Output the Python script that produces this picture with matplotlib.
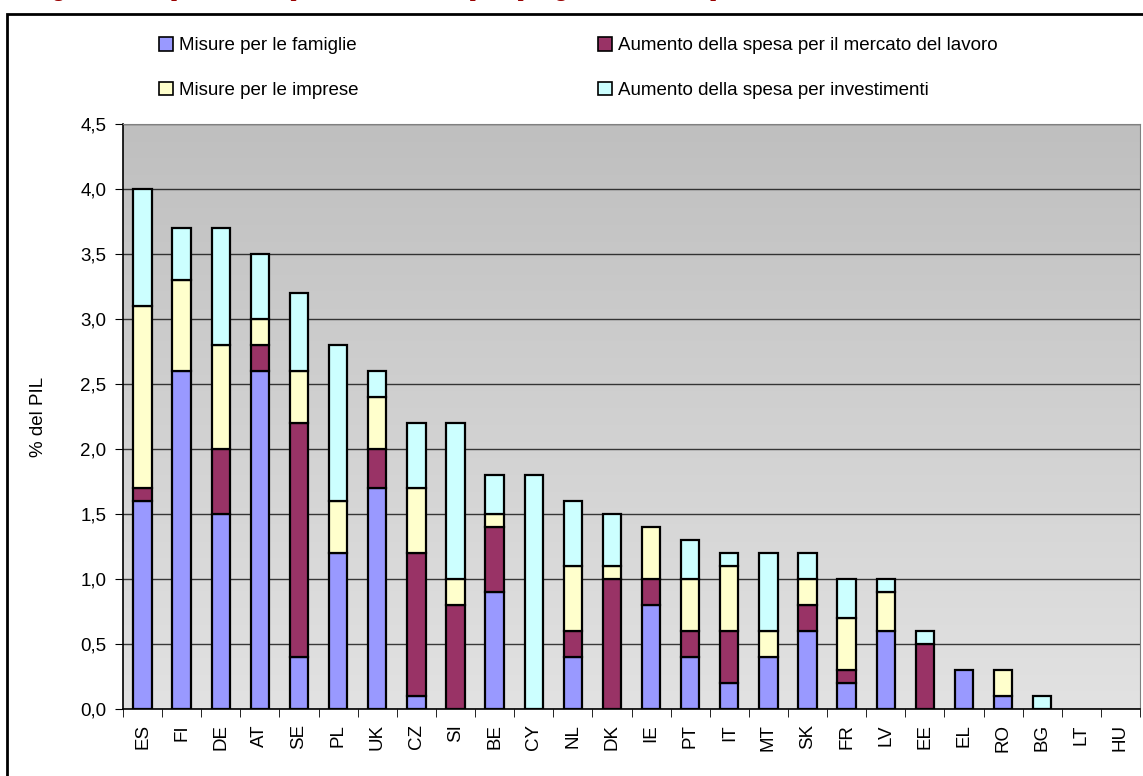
import numpy as np
import matplotlib.pyplot as plt
from matplotlib.patches import Rectangle, Patch

# dati (% del PIL)
paesi = ['ES', 'FI', 'DE', 'AT', 'SE', 'PL', 'UK', 'CZ', 'SI', 'BE', 'CY', 'NL', 'DK',
         'IE', 'PT', 'IT', 'MT', 'SK', 'FR', 'LV', 'EE', 'EL', 'RO', 'BG', 'LT', 'HU']
famiglie = [1.6, 2.6, 1.5, 2.6, 0.4, 1.2, 1.7, 0.1, 0.0, 0.9, 0.0, 0.4, 0.0,
            0.8, 0.4, 0.2, 0.4, 0.6, 0.2, 0.6, 0.0, 0.3, 0.1, 0.0, 0.0, 0.0]
lavoro = [0.1, 0.0, 0.5, 0.2, 1.8, 0.0, 0.3, 1.1, 0.8, 0.5, 0.0, 0.2, 1.0,
          0.2, 0.2, 0.4, 0.0, 0.2, 0.1, 0.0, 0.5, 0.0, 0.0, 0.0, 0.0, 0.0]
imprese = [1.4, 0.7, 0.8, 0.2, 0.4, 0.4, 0.4, 0.5, 0.2, 0.1, 0.0, 0.5, 0.1,
           0.4, 0.4, 0.5, 0.2, 0.2, 0.4, 0.3, 0.0, 0.0, 0.2, 0.0, 0.0, 0.0]
investimenti = [0.9, 0.4, 0.9, 0.5, 0.6, 1.2, 0.2, 0.5, 1.2, 0.3, 1.8, 0.5, 0.4,
                0.0, 0.3, 0.1, 0.6, 0.2, 0.3, 0.1, 0.1, 0.0, 0.0, 0.1, 0.0, 0.0]
yticks = [0.0, 0.5, 1.0, 1.5, 2.0, 2.5, 3.0, 3.5, 4.0, 4.5]

serie = [
    ('Misure per le famiglie', famiglie, '#9999ff'),
    ('Aumento della spesa per il mercato del lavoro', lavoro, '#993366'),
    ('Misure per le imprese', imprese, '#ffffcc'),
    ('Aumento della spesa per investimenti', investimenti, '#ccffff'),
]

plt.rcParams['font.family'] = ['Liberation Sans', 'DejaVu Sans']

W, H = 1143, 776
fig = plt.figure(figsize=(W / 100, H / 100), dpi=100)

# cornice esterna
fig.patches.append(Rectangle((7 / W, -0.2), 1.5, 1.2 - 14 / H, transform=fig.transFigure,
                             fill=False, edgecolor='black', lw=2, clip_on=False))

# titolo (tagliato in alto come nell'originale)
fig.text(35 / W, 1.0 + 4 / H, 'Figura 2 - Composizione dei pacchetti di stimolo per tipologia di misura nei paesi UE',
         color='#990000', fontsize=15, fontweight='bold', family='Liberation Serif',
         va='baseline', ha='left')

ax = fig.add_axes([123 / W, 1 - 709 / H, (1140 - 123) / W, (709 - 124) / H])

# sfondo sfumato
grad = np.linspace(0, 1, 256).reshape(-1, 1)
ax.imshow(grad, extent=[0, 1, 0, 1], transform=ax.transAxes, aspect='auto',
          cmap=plt.matplotlib.colors.LinearSegmentedColormap.from_list('g', ['#e2e2e2', '#bfbfbf']),
          origin='lower', zorder=0)

x = np.arange(len(paesi))
bottom = np.zeros(len(paesi))
for nome, vals, col in serie:
    vals = np.array(vals)
    m = vals > 0  # niente segmenti vuoti
    ax.bar(x[m], vals[m], 0.47, bottom=bottom[m], color=col, edgecolor='black', lw=1.6, zorder=3)
    bottom += vals

ax.set_xlim(-0.5, len(paesi) - 0.5)
ax.set_ylim(0, 4.5)
ax.set_yticks(yticks)
ax.set_yticklabels([f'{v:.1f}'.replace('.', ',') for v in yticks], fontsize=13.5)
ax.yaxis.grid(True, color='black', lw=1, alpha=0.75, zorder=1)
ax.set_axisbelow(True)
ax.set_xticks(x)
ax.set_xticklabels(paesi, rotation=90, fontsize=13.5)
ax.set_xticks(np.arange(-0.5, len(paesi)), minor=True)
ax.tick_params(axis='x', which='major', length=0, pad=11)
ax.tick_params(axis='x', which='minor', length=6, color='black')
ax.tick_params(axis='y', length=6, color='black', pad=6)
ax.set_ylabel('% del PIL', fontsize=13.5, labelpad=24)
for s in ['top', 'right']:
    ax.spines[s].set_color('#808080')
for s in ['left', 'bottom']:
    ax.spines[s].set_color('black')
    ax.spines[s].set_linewidth(1.2)

h = [Patch(facecolor=c, edgecolor='black', lw=1.2, label=n) for n, v, c in serie]
opts = dict(loc='upper left', frameon=False, fontsize=13.5, handlelength=0.75, handleheight=0.75,
            handletextpad=0.3, labelspacing=1.45, borderpad=0, borderaxespad=0)
fig.legend(handles=[h[0], h[2]], bbox_to_anchor=(159 / W, 1 - 37 / H), **opts)
fig.legend(handles=[h[1], h[3]], bbox_to_anchor=(598 / W, 1 - 37 / H), **opts)

fig.savefig('out.png', dpi=100)
